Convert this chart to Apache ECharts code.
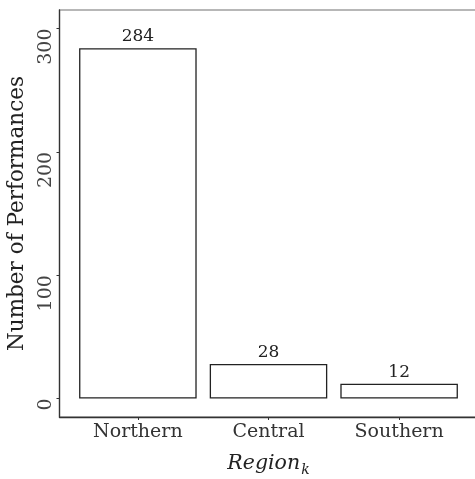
<!DOCTYPE html>
<html><head><meta charset="utf-8">
<script src="https://cdn.jsdelivr.net/npm/echarts@6/dist/echarts.min.js"></script>
<style>html,body{margin:0;padding:0;background:#fff}#c{width:475px;height:479px}</style>
</head><body><div id="c"></div>
<script>
const categories = ['Northern', 'Central', 'Southern'];
const counts = [284, 28, 12];
const yTicks = [0, 100, 200, 300];

const FONT = 'DejaVu Serif';
const chart = echarts.init(document.getElementById('c'), null, {renderer: 'canvas'});
chart.setOption({
  animation: false,
  grid: {left: 59.5, top: 10, width: 418, height: 407, outerBoundsMode: 'none', containLabel: false,
         show: true, borderColor: '#a0a0a0', borderWidth: 1.3, backgroundColor: '#fff'},
  xAxis: {
    type: 'value', min: 0.4, max: 3.6,
    splitLine: {show: false},
    axisLine: {show: true, onZero: false, lineStyle: {color: '#333', width: 1.3}},
    axisTick: {show: true, customValues: [1, 2, 3], length: 3, lineStyle: {color: '#333'}},
    axisLabel: {customValues: [1, 2, 3], formatter: v => categories[Math.round(v) - 1], color: '#333', fontFamily: FONT, fontSize: 19, margin: 6},
    name: '{i|Region}{s|k}', nameLocation: 'middle', nameGap: 34,
    nameTextStyle: {rich: {i: {fontFamily: FONT, fontStyle: 'italic', fontSize: 20.5, color: '#222'}, s: {fontFamily: FONT, fontStyle: 'italic', fontSize: 14, color: '#222', verticalAlign: 'bottom', padding: [12, 0, 0, 1]}}}
  },
  yAxis: {
    type: 'value', min: -15, max: 315,
    splitLine: {show: false},
    axisLine: {show: true, onZero: false, lineStyle: {color: '#333', width: 1.3}},
    axisTick: {show: true, customValues: yTicks, length: 3, lineStyle: {color: '#333'}},
    axisLabel: {customValues: yTicks, rotate: 90, align: 'right', verticalAlign: 'bottom', color: '#444', fontFamily: FONT, fontSize: 19, margin: 4},
    name: 'Number of Performances', nameLocation: 'middle', nameGap: 29,
    nameTextStyle: {fontFamily: FONT, fontSize: 21.5, color: '#222'}
  },
  series: [{
    type: 'bar',
    data: counts.map((v, i) => [i + 1, v]),
    barWidth: '90%',
    itemStyle: {color: '#fff', borderColor: '#222', borderWidth: 1.3},
    label: {show: true, position: 'top', distance: 3, color: '#222', fontFamily: FONT, fontSize: 17}
  }]
});
</script></body></html>
